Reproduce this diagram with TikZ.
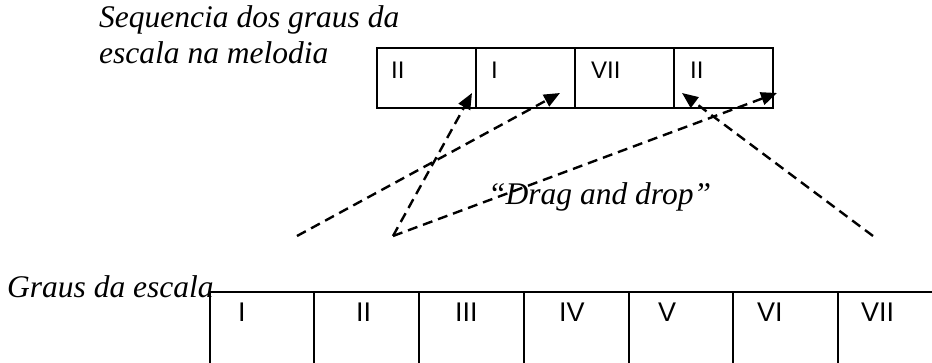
\documentclass[tikz,border=0pt]{standalone}
\usepackage{fontspec}
\setmainfont{Liberation Serif}
\setsansfont{Liberation Sans}
\usetikzlibrary{arrows.meta}

\begin{document}
\begin{tikzpicture}[x=1pt, y=-1pt,
    cell/.style={draw, line width=2pt, minimum width=99pt, minimum height=60pt, inner sep=0pt, outer sep=0pt},
    grau/.style={font=\sffamily\fontsize{24}{24}\selectfont, anchor=base west, inner sep=0pt},
    legenda/.style={font=\itshape\fontsize{31.5}{36}\selectfont, anchor=base west, align=left, inner sep=0pt},
    arrastar/.style={line width=2.4pt, dash pattern=on 10pt off 6pt, -{Triangle[length=16pt,width=13pt]}}]
    \useasboundingbox (0,0) rectangle (932,363);

    % Melody: sequence of scale degrees
    \foreach \i/\x in {1/426.5, 2/525.5, 3/624.5, 4/723.5} {
      \node[cell] (seq\i) at (\x,78) {};
    }
    \foreach \i/\x/\g in {1/391/II, 2/491/I, 3/591/VII, 4/690/II} {
      \node[grau] (gseq\i) at (\x,79) {\g};
    }
    % (base anchor sits on the last line)
    \node[legenda] (seqtit) at (99,64) {Sequencia dos graus da\\escala na melodia};

    % Scale degrees (open table)
    \draw[line width=2pt] (210,292) -- (932,292);
    \foreach \x in {210,314,419,524,629,733,838} {
      \draw[line width=2pt] (\x,292) -- (\x,363);
    }
    \foreach \i/\x/\g in {1/238/I, 2/356/II, 3/455/III, 4/559/IV, 5/658/V, 6/757/VI, 7/861/VII} {
      \node[grau, font=\sffamily\fontsize{27}{27}\selectfont] (gesc\i) at (\x,322) {\g};
    }
    \node[legenda] (esctit) at (7,298) {Graus da escala};

    % Drag and drop paths
    \coordinate (v) at (393,236);
    \coordinate (e) at (297,236);
    \coordinate (d) at (873,236);
    \coordinate (t1) at (472,93);
    \coordinate (t2) at (560,93);
    \coordinate (t3) at (682,93);
    \coordinate (t4) at (777,93);
    \draw[arrastar] (v) -- (t1);
    \draw[arrastar] (e) -- (t2);
    \draw[arrastar] (v) -- (t4);
    \draw[arrastar] (d) -- (t3);

    \node[legenda] (arraste) at (488,205) {“Drag and drop”};
\end{tikzpicture}
\end{document}
